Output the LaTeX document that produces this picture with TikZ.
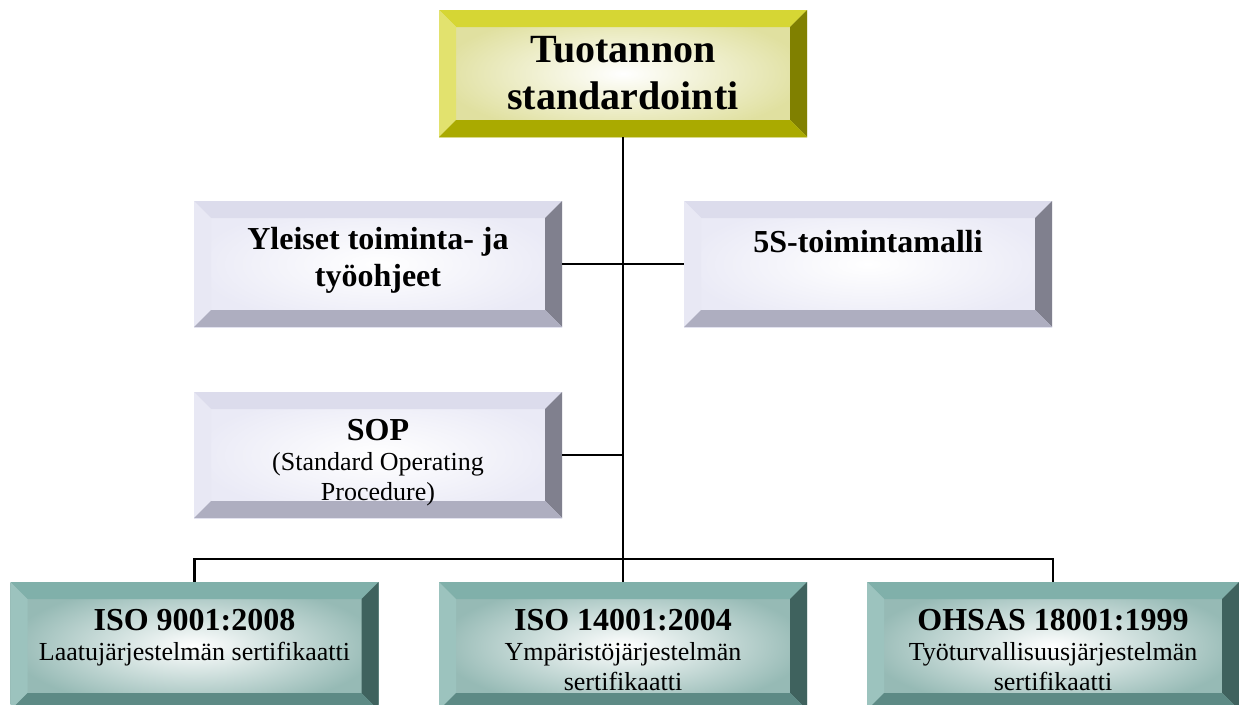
\documentclass[tikz,border=0pt]{standalone}
\usepackage{fontspec}
\setmainfont{Liberation Serif}
\usetikzlibrary{positioning}

\definecolor{goldtop}{RGB}{214,214,52}
\definecolor{goldleft}{RGB}{226,226,110}
\definecolor{goldright}{RGB}{128,128,0}
\definecolor{goldbot}{RGB}{170,170,0}
\definecolor{goldface}{RGB}{224,224,160}
\definecolor{lilactop}{RGB}{220,220,236}
\definecolor{lilacleft}{RGB}{232,232,244}
\definecolor{lilacright}{RGB}{128,128,142}
\definecolor{lilacbot}{RGB}{174,174,192}
\definecolor{lilacface}{RGB}{234,234,246}
\definecolor{tealtop}{RGB}{128,176,170}
\definecolor{tealleft}{RGB}{156,195,190}
\definecolor{tealright}{RGB}{63,98,94}
\definecolor{tealbot}{RGB}{93,138,133}
\definecolor{tealface}{RGB}{150,186,181}
\newcommand{\bevw}{17pt}

\begin{document}
\begin{tikzpicture}
  [x=1pt, y=-1pt,
   bevel/.style n args={4}{path picture={
     \path (path picture bounding box.north west) coordinate (nw)
           (path picture bounding box.north east) coordinate (ne)
           (path picture bounding box.south west) coordinate (sw)
           (path picture bounding box.south east) coordinate (se);
     \fill[#1] (nw) -- (ne) -- ([xshift=-\bevw,yshift=-\bevw]ne) -- ([xshift=\bevw,yshift=-\bevw]nw) -- cycle;
     \fill[#2] (nw) -- (sw) -- ([xshift=\bevw,yshift=\bevw]sw) -- ([xshift=\bevw,yshift=-\bevw]nw) -- cycle;
     \fill[#3] (ne) -- (se) -- ([xshift=-\bevw,yshift=\bevw]se) -- ([xshift=-\bevw,yshift=-\bevw]ne) -- cycle;
     \fill[#4] (sw) -- (se) -- ([xshift=-\bevw,yshift=\bevw]se) -- ([xshift=\bevw,yshift=\bevw]sw) -- cycle;}},
   goldbox/.style={minimum width=368pt, minimum height=127pt, inner sep=0pt,
     inner color=white, outer color=goldface, bevel={goldtop}{goldleft}{goldright}{goldbot}},
   lilacbox/.style={minimum width=368pt, minimum height=126pt, inner sep=0pt,
     inner color=white, outer color=lilacface, bevel={lilactop}{lilacleft}{lilacright}{lilacbot}},
   tealbox/.style={minimum width=368pt, minimum height=128pt, inner sep=0pt,
     inner color=white, outer color=tealface, bevel={tealtop}{tealleft}{tealright}{tealbot}},
   boxtext/.style={inner sep=0pt, text width=340pt, align=flush center},
   bigbold/.style={font=\fontsize{40}{47}\selectfont\bfseries},
   midbold/.style={font=\fontsize{32}{37}\selectfont\bfseries},
   plain/.style={font=\fontsize{26}{30}\selectfont},
   conn/.style={line width=2.2pt, black}]
  \useasboundingbox (0,0) rectangle (1239,704);

  \node[goldbox] (top) at (623,73.5) {};
  \node[lilacbox] (yle) at (378,264) {};
  \node[lilacbox] (fives) at (868,264) {};
  \node[lilacbox] (sop) at (378,455) {};
  \node[tealbox] (iso1) at (194.5,646) {};
  \node[tealbox] (iso2) at (623,646) {};
  \node[tealbox, minimum width=372pt] (iso3) at (1053,646) {};
  \coordinate (bus) at (623,559);

  \draw[conn] (top.south) -- (bus);
  \draw[conn] (iso1.north) |- (bus) -| (iso3.north);
  \draw[conn] (bus) -- (iso2.north);
  \draw[conn] (yle.east) -- (fives.west);
  \draw[conn] (sop.east) -- (sop.east -| top.south);

  \node[boxtext, bigbold, below=26pt of top.north] (top-txt) {Tuotannon\\standardointi};
  \node[boxtext, midbold, below=26pt of yle.north] (yle-txt) {Yleiset toiminta- ja\\työohjeet};
  \node[boxtext, midbold, below=29pt of fives.north] (fives-txt) {5S-toimintamalli};
  \node[boxtext, plain, below=27pt of sop.north] (sop-txt)
    {{\fontsize{32}{30}\selectfont\bfseries SOP}\\(Standard Operating\\Procedure)};
  \node[boxtext, plain, below=27pt of iso1.north] (iso1-txt)
    {{\fontsize{32}{30}\selectfont\bfseries ISO 9001:2008}\\Laatujärjestelmän sertifikaatti};
  \node[boxtext, plain, below=27pt of iso2.north] (iso2-txt)
    {{\fontsize{32}{30}\selectfont\bfseries ISO 14001:2004}\\Ympäristöjärjestelmän\\sertifikaatti};
  \node[boxtext, plain, below=27pt of iso3.north] (iso3-txt)
    {{\fontsize{32}{30}\selectfont\bfseries OHSAS 18001:1999}\\Työturvallisuusjärjestelmän\\sertifikaatti};
\end{tikzpicture}
\end{document}
